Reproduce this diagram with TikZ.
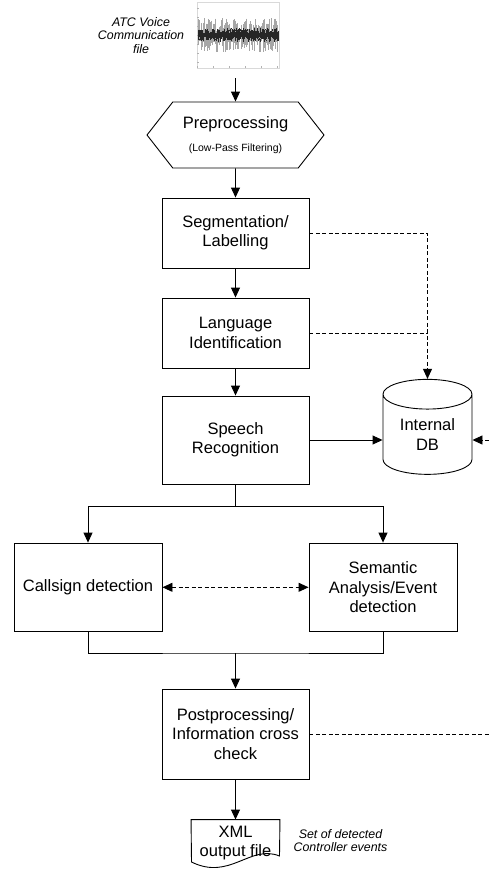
\documentclass[tikz,border=0pt]{standalone}
\usepackage{fontspec}
\setmainfont{Liberation Sans}
\usetikzlibrary{shapes.geometric,shapes.symbols,arrows.meta}

\begin{document}
\begin{tikzpicture}[x=1pt, y=-1pt, line width=0.9pt,
  >={Triangle[width=9pt,length=10pt]},
  box/.style = {draw, rectangle, minimum width=147pt, align=center, inner sep=0pt,
    font=\fontsize{16.5}{19.3}\selectfont},
  hexa/.style = {draw, signal, signal to=west and east, signal pointer angle=104,
    minimum width=177pt, minimum height=66pt, align=center, inner sep=0pt,
    font=\fontsize{16.5}{19.3}\selectfont},
  store/.style = {draw, cylinder, shape border rotate=90, aspect=0.54,
    minimum width=89pt, minimum height=95pt, align=center, inner sep=0pt,
    font=\fontsize{16.5}{19.3}\selectfont},
  note/.style = {align=center, font=\fontsize{12.4}{13.4}\selectfont\itshape},
  dashline/.style = {dash pattern=on 4pt off 2.5pt}]
\useasboundingbox (0,0) rectangle (489,871);

% input signal
\node[note] (atc) at (141,35.5) {ATC Voice\\Communication\\file};
\node[minimum width=82pt, minimum height=76pt, inner sep=0pt] (wave) at (238,40) {};
\draw[black!15, line width=0.4pt] (197,2) rectangle (279,68);
\foreach \t in {8,17,...,62}
  \draw[black!30, line width=0.4pt] (197,\t) -- (199,\t);
\foreach \t in {197,213,...,279}
  \draw[black!30, line width=0.4pt] (\t,68) -- (\t,66);
\pgfmathsetseed{11}
\foreach \i in {0,...,200} {
  \draw[black!35, line width=0.45pt] ({198+0.4*\i},{35-3-14*rnd^2}) -- ({198+0.4*\i},{35+3+14*rnd^2});
  \draw[black!85, line width=0.45pt] ({198+0.4*\i},{35-2-5*rnd}) -- ({198+0.4*\i},{35+2+5*rnd});
}

% processing chain
\node[hexa] (pre) at (235.5,135) {Preprocessing\\[3pt]{\fontsize{10.5}{12}\selectfont (Low-Pass Filtering)}};
\node[box, minimum height=70pt] (seg) at (235.5,233) {Segmentation/\\Labelling};
\node[box, minimum height=70pt] (lang) at (235.5,333) {Language\\Identification};
\node[box, minimum height=88pt] (speech) at (235.5,440) {Speech\\Recognition};
\node[store] (db) at (427.5,434.5) {Internal\\DB};
\node[box, minimum width=148pt, minimum height=88.5pt] (call) at (88,587.3) {Callsign detection};
\node[box, minimum width=148pt, minimum height=88.5pt] (sem) at (383,587.3) {Semantic\\Analysis/Event\\detection};
\node[box, minimum height=90pt] (post) at (235.5,734) {Postprocessing/\\Information cross\\check};
\node[minimum width=88pt, minimum height=46pt, inner sep=0pt, align=center,
  font=\fontsize{16.5}{19.3}\selectfont] (xml) at (235.5,843) {XML\\output file};
\node[note] (events) at (340.5,840.5) {Set of detected\\Controller events};
\coordinate (split) at (235.5,506);
\coordinate (join) at (235.5,653);
\coordinate (dbin) at (489,440);
\coordinate (postout) at (489,734);

\draw (xml.north west) -- (xml.north east) -- (279.5,856)
  .. controls (250,844) and (230,881) .. (191.5,862) -- cycle;

\draw[->] (wave.south -| pre.north) -- (pre.north);
\draw[->] (pre) -- (seg);
\draw[->] (seg) -- (lang);
\draw[->] (lang) -- (speech);
\draw[->] (speech.east) -- (speech.east -| db.west);
\draw[dashline,->] (dbin) -- (dbin -| db.east);
\draw[dashline,->] (seg.east) -| (db.north);
\draw[dashline] (lang.east) -- (lang.east -| db.north);
\draw (speech) -- (split);
\draw[->] (split) -| (call.north);
\draw[->] (split) -| (sem.north);
\draw[dashline,<->] (call) -- (sem);
\draw (call.south) |- (join) -| (sem.south);
\draw[->] (join) -- (post);
\draw[dashline] (post.east) -- (postout);
\draw[->] (post) -- (xml);
\end{tikzpicture}
\end{document}
